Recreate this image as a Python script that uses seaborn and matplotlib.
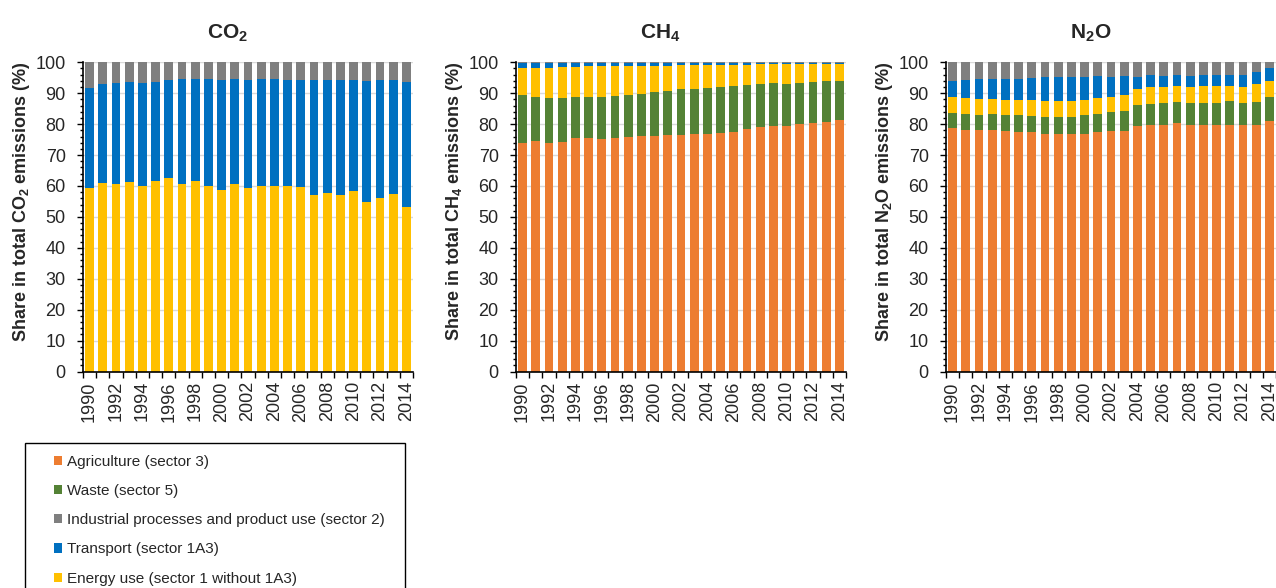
import numpy as np
import pandas as pd
import matplotlib.pyplot as plt
import seaborn as sns
from matplotlib.patches import Patch, Rectangle
from matplotlib.ticker import MultipleLocator

# ── data (shares in %) ─────────────────────────────────────────
years = list(range(1990, 2015))

co2_energy = [59.4, 61.1, 60.6, 61.4, 59.9, 61.6, 62.5, 60.7, 61.7, 60.1, 58.6, 60.5, 59.3,
              60.0, 59.9, 60.1, 59.6, 57.0, 57.6, 57.1, 58.4, 54.9, 56.1, 57.3, 53.3]
co2_transport = [32.4, 31.9, 32.7, 32.2, 33.3, 32.0, 31.8, 33.8, 32.9, 34.5, 35.7, 34.0, 35.1,
                 34.6, 34.6, 34.2, 34.7, 37.3, 36.8, 37.3, 35.9, 39.0, 38.2, 37.1, 40.4]
co2_industry = [8.2, 7.0, 6.7, 6.4, 6.8, 6.4, 5.7, 5.5, 5.4, 5.4, 5.7, 5.5, 5.6,
                5.4, 5.5, 5.7, 5.7, 5.7, 5.6, 5.6, 5.7, 6.1, 5.7, 5.6, 6.3]

ch4_agri = [73.9, 74.4, 74.0, 74.3, 75.4, 75.4, 75.3, 75.5, 76.0, 76.2, 76.3, 76.4, 76.4,
            76.7, 76.7, 77.2, 77.6, 78.3, 79.2, 79.5, 79.5, 80.1, 80.5, 80.7, 81.2]
ch4_waste = [15.5, 14.3, 14.5, 14.2, 13.4, 13.4, 13.5, 13.6, 13.4, 13.5, 14.0, 14.3, 14.9,
             14.7, 15.0, 14.8, 14.7, 14.5, 13.8, 13.7, 13.5, 13.2, 13.1, 13.1, 12.9]
ch4_energy = [8.6, 9.4, 9.7, 9.9, 9.7, 9.9, 9.9, 9.7, 9.4, 9.1, 8.6, 8.2, 7.7,
              7.6, 7.4, 7.2, 6.9, 6.4, 6.3, 6.1, 6.3, 6.1, 5.8, 5.6, 5.3]
ch4_transport = [1.9, 1.8, 1.7, 1.5, 1.4, 1.2, 1.2, 1.1, 1.1, 1.1, 1.0, 1.0, 0.9,
                 0.9, 0.8, 0.7, 0.7, 0.7, 0.6, 0.6, 0.6, 0.5, 0.5, 0.5, 0.5]
ch4_industry = [0.1] * 25

n2o_agri = [78.6, 78.1, 78.0, 78.1, 77.7, 77.4, 77.3, 76.8, 76.7, 76.7, 76.8, 77.3, 77.8,
            77.8, 79.3, 79.8, 79.8, 80.3, 79.7, 79.7, 79.6, 79.8, 79.6, 79.6, 81.1]
n2o_waste = [5.0, 5.1, 5.0, 5.2, 5.1, 5.4, 5.2, 5.6, 5.7, 5.7, 6.0, 6.0, 6.0,
             6.4, 6.9, 6.7, 6.9, 6.8, 7.0, 7.1, 7.1, 7.6, 7.1, 7.6, 7.8]
n2o_energy = [5.1, 5.1, 5.1, 4.9, 4.9, 4.9, 5.2, 5.0, 5.2, 5.1, 4.9, 5.1, 5.1,
              5.2, 5.2, 5.4, 5.3, 5.1, 5.2, 5.4, 5.5, 4.9, 5.2, 5.7, 5.0]
n2o_transport = [5.2, 6.0, 6.5, 6.5, 6.8, 7.0, 7.2, 7.8, 7.8, 7.7, 7.7, 7.2, 6.5,
                 6.2, 4.0, 3.9, 3.6, 3.6, 3.7, 3.7, 3.6, 3.6, 4.1, 4.0, 4.1]
n2o_industry = [6.1, 5.7, 5.4, 5.3, 5.5, 5.3, 5.1, 4.8, 4.6, 4.8, 4.6, 4.4, 4.6,
                4.4, 4.6, 4.2, 4.4, 4.2, 4.4, 4.1, 4.2, 4.1, 4.0, 3.1, 2.0]

# legend order and colours
sector_labels = {
    'agri': 'Agriculture (sector 3)',
    'waste': 'Waste (sector 5)',
    'industry': 'Industrial processes and product use (sector 2)',
    'transport': 'Transport (sector 1A3)',
    'energy': 'Energy use (sector 1 without 1A3)',
}
sector_colors = {
    'agri': '#ED7D31',
    'waste': '#548235',
    'industry': '#7F7F7F',
    'transport': '#0070C0',
    'energy': '#FFC000',
}
stack_order = ['agri', 'waste', 'energy', 'transport', 'industry']  # bottom -> top

gases = [
    ('CO$_\\mathbf{2}$', 'Share in total CO$_\\mathbf{2}$ emissions (%)',
     {'energy': co2_energy, 'transport': co2_transport, 'industry': co2_industry}),
    ('CH$_\\mathbf{4}$', 'Share in total CH$_\\mathbf{4}$ emissions (%)',
     {'agri': ch4_agri, 'waste': ch4_waste, 'energy': ch4_energy,
      'transport': ch4_transport, 'industry': ch4_industry}),
    ('N$_\\mathbf{2}$O', 'Share in total N$_\\mathbf{2}$O emissions (%)',
     {'agri': n2o_agri, 'waste': n2o_waste, 'energy': n2o_energy,
      'transport': n2o_transport, 'industry': n2o_industry}),
]

# ── style ──────────────────────────────────────────────────────
sns.set_style('ticks')
plt.rcParams['font.family'] = ['Liberation Sans', 'DejaVu Sans']
plt.rcParams['mathtext.fontset'] = 'custom'
plt.rcParams['mathtext.rm'] = 'Liberation Sans'
plt.rcParams['mathtext.bf'] = 'Liberation Sans:bold'

W, H = 1276, 588
fig = plt.figure(figsize=(W / 100, H / 100), dpi=100)

ax_left = [83, 516, 946]
ax_w, ax_top, ax_bot = 330, 62.3, 371.5

for left, (title, ylabel, shares) in zip(ax_left, gases):
    ax = fig.add_axes([left / W, (H - ax_bot) / H, ax_w / W, (ax_bot - ax_top) / H])
    ax.set_axisbelow(True)
    ax.yaxis.grid(True, color='#D9D9D9', linewidth=1.0)

    df = pd.DataFrame({'year': years})
    cols = [s for s in stack_order if s in shares]
    for s in cols:
        df[s] = shares[s]
    cum = df[cols].cumsum(axis=1)
    cum['year'] = df['year']

    # draw from the top of the stack down so each layer shows its segment
    for s in reversed(cols):
        sns.barplot(data=cum, x='year', y=s, color=sector_colors[s], saturation=1,
                    width=0.68, errorbar=None, ax=ax, linewidth=0)

    ax.set_xlim(-0.5, 24.5)
    ax.set_ylim(0, 100)
    ax.set_xlabel('')
    ax.set_ylabel(ylabel, fontsize=13, fontweight='bold')
    ax.yaxis.set_label_coords(-0.155, 0.551)
    ax.set_title(title, fontsize=15, fontweight='bold', pad=17, x=0.437)

    ax.yaxis.set_major_locator(MultipleLocator(10))
    ax.yaxis.set_minor_locator(MultipleLocator(2))
    ax.set_xticks(range(0, 25, 2))
    ax.set_xticklabels([str(y) for y in years[::2]], rotation=90)
    ax.set_xticks(np.arange(-0.5, 25, 1), minor=True)

    ax.tick_params(axis='y', which='major', labelsize=13, length=4.5, width=1, color='black', pad=8)
    ax.tick_params(axis='y', which='minor', length=2.5, width=1, color='black')
    ax.tick_params(axis='x', which='major', labelsize=13, length=0, pad=7)
    ax.tick_params(axis='x', which='minor', length=4.5, width=1, color='black')

    sns.despine(ax=ax)
    for sp in ['left', 'bottom']:
        ax.spines[sp].set_color('black')
        ax.spines[sp].set_linewidth(1.2)

# ── legend ─────────────────────────────────────────────────────
fig.patches.append(Rectangle((25 / W, -0.05), 380 / W, (H - 443) / H + 0.05,
                             transform=fig.transFigure, fill=False,
                             edgecolor='black', linewidth=1))
legend_keys = ['agri', 'waste', 'industry', 'transport', 'energy']
handles = [Patch(facecolor=sector_colors[k], edgecolor='none') for k in legend_keys]
fig.legend(handles, [sector_labels[k] for k in legend_keys],
           loc='upper left', bbox_to_anchor=(46 / W, 1 - 447 / H),
           frameon=False, fontsize=11, handlelength=0.55, handleheight=0.55,
           handletextpad=0.35, labelspacing=1.0, borderpad=0)

fig.savefig('out.png', dpi=100)
